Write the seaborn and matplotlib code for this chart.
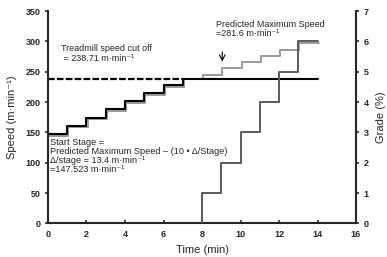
import numpy as np
import pandas as pd
import matplotlib
matplotlib.use('Agg')
import matplotlib.pyplot as plt
import matplotlib.transforms as mtransforms
import seaborn as sns

sns.set_style('ticks')
plt.rcParams['font.family'] = ['Liberation Sans', 'DejaVu Sans']

# Speed protocol actually run on the treadmill (capped at cut off)
speed_time = [0, 1, 2, 3, 4, 5, 6, 7, 14]
speed_run = [147.5, 160.9, 174.3, 187.7, 201.1, 214.5, 227.9, 238.7, 238.7]

# Planned speed steps up to predicted maximum (gray)
plan_time = [0, 1, 2, 3, 4, 5, 6, 7, 8, 9, 10, 11, 12, 13, 14]
plan_speed = [147.5, 160.9, 174.3, 187.7, 201.1, 214.5, 227.9, 241.3, 247.0, 259.0, 269.0, 279.0, 289.0, 300.0, 300.0]

# Grade increases once the speed cut off is reached
grade_time = [8, 8, 9, 10, 11, 12, 13, 14]
grade = [0, 1, 2, 3, 4, 5, 6, 6]

cutoff = 238.7
cutoff_time = [0, 7]

fig = plt.figure(figsize=(3.87, 2.57), dpi=100)
ax = fig.add_axes([0.124, 0.131, 0.796, 0.826])

# gray planned line, nudged a little right/down so it shows as a shadow
shadow = mtransforms.offset_copy(ax.transData, fig=fig, x=0.8, y=-1.2, units='points')
sns.lineplot(x=plan_time, y=plan_speed, ax=ax, color='#9a9a9a', lw=1.4,
             drawstyle='steps-post', estimator=None, sort=False, transform=shadow)
sns.lineplot(x=speed_time, y=speed_run, ax=ax, color='black', lw=1.5,
             drawstyle='steps-post', estimator=None, sort=False)
sns.lineplot(x=cutoff_time, y=[cutoff, cutoff], ax=ax, color='black', lw=1.6,
             dashes=False, estimator=None, sort=False)
ax.lines[-1].set_dashes((3, 1))

ax.set_xlim(0, 16)
ax.set_ylim(0, 350)
ax.set_xticks(np.arange(0, 17, 2))
ax.set_yticks(np.arange(0, 351, 50))
ax.set_xlabel('Time (min)', fontsize=8, labelpad=4)
ax.set_ylabel('Speed (m·min⁻¹)', fontsize=8, labelpad=6)

ax2 = ax.twinx()
sns.lineplot(x=grade_time, y=grade, ax=ax2, color='#5a5a5a', lw=1.4,
             drawstyle='steps-post', estimator=None, sort=False)
ax2.set_ylim(0, 7)
ax2.set_yticks(range(0, 8))
ax2.set_ylabel('Grade (%)', fontsize=8, labelpad=5)

for a in (ax, ax2):
    a.spines['top'].set_visible(False)
    for s in a.spines.values():
        s.set_linewidth(1.5)
    a.tick_params(width=1.2, length=2.5, labelsize=6.5, pad=3)
    for lab in a.get_xticklabels() + a.get_yticklabels():
        lab.set_fontweight('bold')
ax.tick_params(axis='x', direction='in', pad=5)
ax.spines['right'].set_visible(False)
ax2.spines['left'].set_visible(False)
ax2.spines['bottom'].set_visible(False)

ax.text(0.65, 295, 'Treadmill speed cut off\n = 238.71 m·min⁻¹', fontsize=6.5,
        va='top', ha='left', linespacing=1.1)
ax.text(8.75, 336, 'Predicted Maximum Speed\n=281.6 m·min⁻¹', fontsize=6.5,
        va='top', ha='left', linespacing=1.1)
ax.annotate('', xy=(9.05, 262), xytext=(9.05, 287),
            arrowprops=dict(arrowstyle='->', lw=0.8, color='black'))
ax.text(0.12, 141, 'Start Stage =\nPredicted Maximum Speed – (10 • Δ/Stage)\n'
        'Δ/stage = 13.4 m·min⁻¹\n=147.523 m·min⁻¹', fontsize=6.6,
        va='top', ha='left', linespacing=1.0)

plt.savefig('out.png', dpi=100)
plt.close()
